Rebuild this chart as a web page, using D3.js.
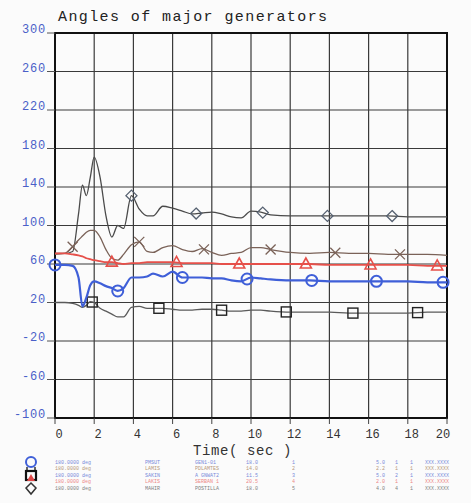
<!DOCTYPE html>
<html><head><meta charset="utf-8">
<script src="https://cdn.jsdelivr.net/npm/d3@7"></script>
<style>body{margin:0;background:#fbfbfb;}svg{display:block;}</style>
</head><body><svg id="c" width="471" height="503"></svg>
<script>
const times = [0,0.5,0.9,1.2,1.4,1.6,1.8,2.0,2.3,2.6,2.9,3.2,3.5,3.9,4.3,4.7,5.0,5.5,6.0,6.5,7.0,7.5,8.0,8.5,9.0,9.5,10,10.5,11,12,13,14,15,16,17,18,19,20];
const diamondGen = [71,71,73,112,142,131,150,171,150,110,88,100,97,131,117,110,110,120,118,115,112,113,114,112,109,108,115,114,111,110,110,110,110,110,110,109,109,109];
const crossGen   = [70,71,78,85,89,93,95,95,88,75,66,64,70,80,83,73,72,77,79,75,73,76,72,69,71,72,77,77,75,72,71,72,71,71,70,70,70,69];
const triGen     = [71,71,70,69,68,66,65,64,63,62,62,61,60,61,61,62,62,62,62,61,61,61,61,60,60,60,60,60,60,60,60,59,59,59,59,59,58,58];
const circleGen  = [59,59,58,46,16,25,38,42,40,37,35,32,35,46,46,47,50,47,52,46,46,46,45,45,43,42,46,45,44,43,43,42,42,42,42,42,41,41];
const squareGen  = [20,20,19,17,15,17,21,20,14,11,8,5,5,15,16,14,14,14,13,12,12,13,13,12,11,11,12,12,11,10,10,10,9,9,9,9,10,10];
const circleMarks  = [0,3.2,6.5,9.8,13.1,16.4,19.8];
const triMarks     = [2.9,6.2,9.4,12.8,16.1,19.5];
const squareMarks  = [1.9,5.3,8.5,11.8,15.2,18.5];
const crossMarks   = [0.9,4.3,7.6,11.0,14.3,17.6];
const diamondMarks = [3.9,7.2,10.6,13.9,17.2];
const xTicks = [0,2,4,6,8,10,12,14,16,18,20];
const yTicks = [-100,-60,-20,20,60,100,140,180,220,260,300];
const titleText = "Angles of major generators";
const xTitle = "Time( sec )";
const legendRows = [
 ["180.0000 deg","PMSUT","GEN1-01","18.0","1","5.0","1","1","XXX.XXXX"],
 ["180.0000 deg","LAMIS","PDLAMTES","14.0","2","2.2","1","1","XXX.XXXX"],
 ["180.0000 deg","SAKIN","A GNWAT2","11.5","3","5.0","2","1","XXX.XXXX"],
 ["180.0000 deg","LAKIS","SERBAN 1","20.5","4","2.0","1","1","XXX.XXXX"],
 ["180.0000 deg","MAHIR","POSTILLA","18.0","5","4.0","4","1","XXX.XXXX"]
];
const legendColors = ["#4a64d0","#a07850","#4a64d0","#e86060","#555"];

const svg = d3.select("#c");
const x = d3.scaleLinear().domain([0,20]).range([55,447]);
const y = d3.scaleLinear().domain([-100,300]).range([418,33]);
const mono = "'Liberation Mono','DejaVu Sans Mono',monospace";

// grid
svg.append("g").selectAll("line").data(xTicks.slice(1,-1)).join("line")
  .attr("x1",d=>x(d)).attr("x2",d=>x(d)).attr("y1",y(300)).attr("y2",y(-100))
  .attr("stroke","#3a3a3a").attr("stroke-width",1.2);
svg.append("g").selectAll("line").data(yTicks.slice(1,-1)).join("line")
  .attr("x1",x(0)).attr("x2",x(20)).attr("y1",d=>y(d)).attr("y2",d=>y(d))
  .attr("stroke","#3a3a3a").attr("stroke-width",1.2);
svg.append("rect").attr("x",x(0)).attr("y",y(300)).attr("width",x(20)-x(0)).attr("height",y(-100)-y(300))
  .attr("fill","none").attr("stroke","#111").attr("stroke-width",2);

// y ticks
const yg = svg.append("g");
yg.selectAll("text").data(yTicks).join("text")
  .attr("x",46).attr("y",d=>y(d)).attr("text-anchor","end")
  .attr("font-family",mono).attr("font-size",12).attr("letter-spacing",0.8)
  .attr("fill","#4a5fc8").text(d=>d);
yg.selectAll("line").data(yTicks).join("line")
  .attr("x1",47).attr("x2",55).attr("y1",d=>y(d)).attr("y2",d=>y(d))
  .attr("stroke","#555").attr("stroke-width",1);
// x ticks
const xg = svg.append("g");
xg.selectAll("line").data(xTicks).join("line")
  .attr("x1",d=>x(d)).attr("x2",d=>x(d)).attr("y1",y(-100)).attr("y2",y(-100)+6)
  .attr("stroke","#444");
xg.selectAll("text").data(xTicks).join("text")
  .attr("x",(d,i)=> i===xTicks.length-1 ? x(d)-4 : x(d)+4).attr("y",438).attr("text-anchor","middle")
  .attr("font-family",mono).attr("font-size",12).attr("fill","#333").text(d=>d);

svg.append("text").attr("x",58).attr("y",21).attr("font-family",mono).attr("font-size",15)
  .attr("letter-spacing",1.4).attr("fill","#222").text(titleText);
svg.append("text").attr("x",193).attr("y",455).attr("font-family",mono).attr("font-size",14)
  .attr("letter-spacing",0.6).attr("fill","#333").text(xTitle);

// series
const series = [
  {vals:squareGen, color:"#5a5a5a", w:1.3, marks:squareMarks, shape:"square"},
  {vals:diamondGen, color:"#4a4a4a", w:1.3, marks:diamondMarks, shape:"diamond"},
  {vals:crossGen, color:"#7a6258", w:1.3, marks:crossMarks, shape:"cross"},
  {vals:triGen, color:"#e6504a", w:1.8, marks:triMarks, shape:"triangle"},
  {vals:circleGen, color:"#3f5fd8", w:2.2, marks:circleMarks, shape:"circle"}
];
const line = d3.line().x((d,i)=>x(times[i])).y(d=>y(d)).curve(d3.curveMonotoneX);
const plot = svg.append("g");
function valAt(vals,t){
  const i = Math.max(1, d3.bisectLeft(times,t));
  const t0=times[i-1], t1=times[Math.min(i,times.length-1)];
  const v0=vals[i-1], v1=vals[Math.min(i,times.length-1)];
  return t1===t0 ? v0 : v0+(v1-v0)*(t-t0)/(t1-t0);
}
function drawMarker(g,shape,cx,cy,color){
  if(shape==="circle") g.append("circle").attr("cx",cx).attr("cy",cy).attr("r",5.5).attr("fill","none").attr("stroke",color).attr("stroke-width",2);
  else if(shape==="square") g.append("rect").attr("x",cx-5).attr("y",cy-5).attr("width",10).attr("height",10).attr("fill","none").attr("stroke","#222").attr("stroke-width",1.4);
  else if(shape==="triangle") g.append("path").attr("d",`M${cx},${cy-6}L${cx+5.5},${cy+4}L${cx-5.5},${cy+4}Z`).attr("fill","none").attr("stroke",color).attr("stroke-width",1.6);
  else if(shape==="diamond") g.append("path").attr("d",`M${cx},${cy-5.5}L${cx+5.5},${cy}L${cx},${cy+5.5}L${cx-5.5},${cy}Z`).attr("fill","none").attr("stroke","#556070").attr("stroke-width",1.3);
  else if(shape==="cross") g.append("path").attr("d",`M${cx-5},${cy-5}L${cx+5},${cy+5}M${cx+5},${cy-5}L${cx-5},${cy+5}`).attr("fill","none").attr("stroke",color).attr("stroke-width",1.3);
}
series.forEach(s=>{
  plot.append("path").datum(s.vals).attr("d",line).attr("fill","none").attr("stroke",s.color).attr("stroke-width",s.w);
  s.marks.forEach(t=>drawMarker(plot,s.shape,x(t),y(valAt(s.vals,t)),s.color));
});

// legend symbols
const lg = svg.append("g");
lg.append("circle").attr("cx",31).attr("cy",462).attr("r",5).attr("fill","none").attr("stroke","#3f5fd8").attr("stroke-width",2);
lg.append("path").attr("d","M27,467L27,471M35,467L35,471").attr("stroke","#333").attr("stroke-width",1.5);
lg.append("rect").attr("x",26).attr("y",471).attr("width",10).attr("height",9).attr("fill","none").attr("stroke","#111").attr("stroke-width",2.2);
lg.append("path").attr("d","M31,474L35,481L27,481Z").attr("fill","#e04848");
lg.append("path").attr("d","M31,483L36,488L31,494L26,488Z").attr("fill","none").attr("stroke","#333").attr("stroke-width",1.5);
const colX = [55,145,195,246,292,376,395,410,425];
legendRows.forEach((row,r)=>{
  row.forEach((txt,c)=>{
    lg.append("text").attr("x",colX[c]).attr("y",464+r*6.4).attr("font-family",mono).attr("font-size",5)
      .attr("fill",legendColors[r]).attr("opacity",0.75).text(txt);
  });
});
</script></body></html>
